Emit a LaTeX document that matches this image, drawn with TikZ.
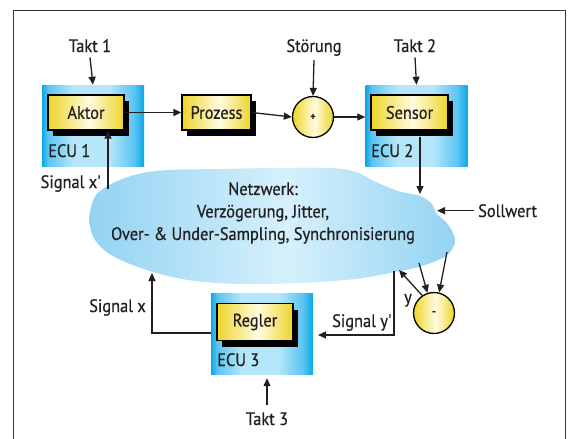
\documentclass[tikz,border=0pt]{standalone}
\usepackage{fontspec}
\setmainfont[FakeStretch=0.91, FakeBold=0.6, Ligatures=TeXOff]{PT Sans}
\usetikzlibrary{arrows.meta,calc,shadows}
\definecolor{ecuD}{HTML}{0AA8E6}
\definecolor{ecuM}{HTML}{5CC4F2}
\definecolor{ecuL}{HTML}{B5E6FA}
\definecolor{ylwD}{HTML}{EDD52A}
\definecolor{ylwL}{HTML}{FFFBDF}
\definecolor{cldD}{HTML}{92D3F2}
\definecolor{cldL}{HTML}{D6F0FC}
\definecolor{txt}{HTML}{231F20}
\definecolor{frm}{HTML}{333333}
\pgfdeclarehorizontalshading{ecushade}{100bp}{color(0bp)=(ecuD); color(25bp)=(ecuD); color(28bp)=(ecuM); color(40bp)=(ecuL); color(58bp)=(ecuL); color(70bp)=(ecuM); color(75bp)=(ecuD); color(100bp)=(ecuD)}
\pgfdeclarehorizontalshading{ylwshade}{100bp}{color(0bp)=(ylwD); color(25bp)=(ylwD); color(52bp)=(ylwL); color(75bp)=(ylwD); color(100bp)=(ylwD)}
\pgfdeclarehorizontalshading{cldshade}{100bp}{color(0bp)=(cldD); color(25bp)=(cldD); color(52bp)=(cldL); color(75bp)=(cldD); color(100bp)=(cldD)}
\begin{document}
\begin{tikzpicture}[x=1pt,y=-1pt,
  lbl/.style={font=\fontsize{18}{22.5}\selectfont, text=txt, inner sep=0pt},
  ecubox/.style={shading=ecushade, minimum width=102pt, minimum height=81pt, inner sep=0pt},
  blk/.style={draw=black, line width=1.3pt, shading=ylwshade, minimum height=35pt, inner sep=0pt,
    font=\fontsize{18}{22}\selectfont, text=txt,
    general shadow={fill=black, shadow xshift=5pt, shadow yshift=-6pt}},
  sumnode/.style={circle, draw=black, line width=1.3pt, shading=ylwshade, minimum size=41pt, inner sep=0pt,
    font=\fontsize{11}{11}\selectfont\bfseries, text=txt},
  arr/.style={draw=txt, line width=1.3pt, -{Triangle[length=8pt,width=7pt]}}
]
\useasboundingbox (0,0) rectangle (568,439);
% frame
\draw[frm, line width=0.9pt] (13,445) -- (13,10) -- (565,10) -- (565,445);
% cloud
\shade[shading=cldshade] plot[smooth cycle, tension=0.55] coordinates {
 (90,212) (96,195) (113,183) (138,174) (168,170) (220,169) (270,168) (330,168)
 (356,172) (376,182) (398,191) (420,196) (432,204) (436,213) (446,222) (453,233)
 (455,243) (446,256) (422,266) (395,272) (355,279) (300,283) (240,284) (195,281)
 (160,274) (130,264) (108,253) (95,240) (90,226)};
\node[lbl, align=center] (net) at (263,213) {Netzwerk:\\Verzögerung, Jitter,\\Over- \& Under-Sampling, Synchronisierung};
% ECU boxes
\node[ecubox] (ecu1) at (93,125.5) {};
\node[ecubox] (ecu2) at (416.5,125.5) {};
\node[ecubox] (ecu3) at (262,333.5) {};
\node[lbl, anchor=base west] (ecu1t) at (48,157) {ECU 1};
\node[lbl, anchor=base west] (ecu2t) at (371,157) {ECU 2};
\node[lbl, anchor=base west] (ecu3t) at (217,366) {ECU 3};
% blocks
\node[blk, minimum width=76pt] (aktor) at (86,112.5) {Aktor};
\node[blk, minimum width=69pt] (prozess) at (216.5,112.5) {Prozess};
\node[blk, minimum width=77pt] (sensor) at (409.5,112.5) {Sensor};
\node[blk, minimum width=76pt, minimum height=37pt] (regler) at (255,322) {Regler};
\node[sumnode] (plus) at (313,117) {+};
\node[sumnode] (minus) at (434,313) {-};
% labels
\node[lbl, anchor=base] (takt1) at (90,52) {Takt 1};
\node[lbl, anchor=base] (stoer) at (314,52) {Störung};
\node[lbl, anchor=base] (takt2) at (415,52) {Takt 2};
\node[lbl, anchor=base] (takt3) at (267,425) {Takt 3};
\node[lbl, anchor=base east] (sigxp) at (101,188) {Signal x'};
\node[lbl, anchor=base east] (sigx) at (146,312) {Signal x};
\node[lbl, anchor=base west] (sigyp) at (332,327) {Signal y'};
\node[lbl, anchor=base] (ylab) at (408,303) {y};
\node[lbl, anchor=base west] (soll) at (478,217) {Sollwert};
% cloud coordinates
\coordinate (cXp) at (108,189);
\coordinate (cS) at (420,194);
\coordinate (cSoll) at (437,212);
\coordinate (cM1) at (419,263);
\coordinate (cM2) at (447,252);
\coordinate (cY) at (399,270);
\coordinate (cYp) at (394,271);
\coordinate (cX) at (152,273);
\coordinate (ypEnd) at (318,335);
% connectors
\draw[arr] (takt1.south) ++(0,5) -- (ecu1.north);
\draw[arr] (stoer.south) ++(0,4) -- (plus.north);
\draw[arr] (takt2.south) ++(0,5) -- (ecu2.north);
\draw[arr] (aktor.east) -- (prozess.west);
\draw[arr] (prozess.east) -- (plus.west);
\draw[arr] (plus.east) -- (plus.east -| ecu2.west);
\draw[arr] (sensor.south -| cS) ++(0,6) -- (cS);
\draw[arr] (cXp) -- (cXp |- aktor.south);
\draw[arr] ([xshift=-4pt]soll.west) -- (soll.west -| cSoll);
\draw[arr] (cM1) -- (minus.108);
\draw[arr] (cM2) -- (minus.76);
\draw[arr] (minus.124) -- (cY);
\draw[arr] (cYp) |- (ypEnd);
\draw[arr] (ecu3.west |- 0,333) -| (cX);
\draw[arr] (takt3.north) ++(0,-7) -- ($(ecu3.south)+(5,4)$);
\end{tikzpicture}
\end{document}
